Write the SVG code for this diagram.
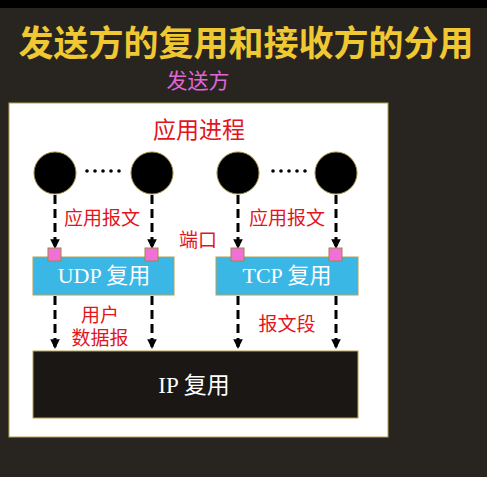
<svg xmlns="http://www.w3.org/2000/svg" width="487" height="477" viewBox="0 0 487 477">
  <style>
    .cjk { font-family: "Liberation Serif", "Noto Sans CJK SC", serif; }
    .red { fill: #e3141c; font-size: 19px; }
    .proc { fill: #000; stroke: #9c8a40; stroke-width: 1; }
    .port { fill: #f070d8; stroke: #a08840; stroke-width: 1; }
    .flow { stroke: #000; stroke-width: 3; stroke-dasharray: 9 5; fill: none; marker-end: url(#arrow); }
    .boxlabel { fill: #fff; font-size: 22px; text-anchor: middle; }
  </style>
  <defs>
    <marker id="arrow" viewBox="0 0 10 10" refX="9" refY="5" markerWidth="3.2" markerHeight="3.2" orient="auto" markerUnits="strokeWidth">
      <path d="M0 0 L10 5 L0 10 Z" fill="#000"/>
    </marker>
  </defs>

  <!-- background -->
  <rect x="0" y="0" width="487" height="477" fill="#28241f"/>
  <rect x="0" y="0" width="487" height="8" fill="#000"/>

  <!-- headings -->
  <text class="cjk" x="246" y="56" text-anchor="middle" font-size="35" font-weight="bold" fill="#f0c832">发送方的复用和接收方的分用</text>
  <text class="cjk" x="198" y="88" text-anchor="middle" font-size="21" fill="#e066d6">发送方</text>

  <!-- host frame -->
  <rect x="9" y="103" width="379" height="334" fill="#fff" stroke="#b8a050" stroke-width="1"/>

  <text class="cjk" x="199" y="138" text-anchor="middle" font-size="23" fill="#e3141c">应用进程</text>

  <!-- application processes -->
  <g id="proc-udp-1"><circle class="proc" cx="55" cy="173" r="21"/></g>
  <g id="proc-udp-2"><circle class="proc" cx="152" cy="173" r="21"/></g>
  <g id="proc-tcp-1"><circle class="proc" cx="238" cy="173" r="21"/></g>
  <g id="proc-tcp-2"><circle class="proc" cx="336" cy="173" r="21"/></g>
  <g id="ellipsis" fill="#000">
    <circle cx="87" cy="171" r="1.8"/><circle cx="95" cy="171" r="1.8"/><circle cx="103" cy="171" r="1.8"/><circle cx="111" cy="171" r="1.8"/><circle cx="119" cy="171" r="1.8"/>
    <circle cx="273" cy="171" r="1.8"/><circle cx="281" cy="171" r="1.8"/><circle cx="289" cy="171" r="1.8"/><circle cx="297" cy="171" r="1.8"/><circle cx="305" cy="171" r="1.8"/>
  </g>

  <!-- connectors -->
  <g id="connectors">
    <line class="flow" x1="55" y1="195" x2="55" y2="248"/>
    <line class="flow" x1="152" y1="195" x2="152" y2="248"/>
    <line class="flow" x1="238" y1="195" x2="238" y2="248"/>
    <line class="flow" x1="336" y1="195" x2="336" y2="248"/>
    <line class="flow" x1="55" y1="296" x2="55" y2="348"/>
    <line class="flow" x1="152" y1="296" x2="152" y2="348"/>
    <line class="flow" x1="238" y1="296" x2="238" y2="348"/>
    <line class="flow" x1="336" y1="296" x2="336" y2="348"/>
  </g>

  <!-- UDP multiplexer -->
  <g id="udp-mux">
    <rect x="33" y="257" width="141" height="38" fill="#3bb7e6" stroke="#b8a050" stroke-width="1"/>
    <text class="cjk boxlabel" x="104" y="283">UDP 复用</text>
    <rect class="port" x="48" y="248" width="13" height="13"/>
    <rect class="port" x="145" y="248" width="13" height="13"/>
  </g>

  <!-- TCP multiplexer -->
  <g id="tcp-mux">
    <rect x="216" y="257" width="142" height="38" fill="#3bb7e6" stroke="#b8a050" stroke-width="1"/>
    <text class="cjk boxlabel" x="287" y="283">TCP 复用</text>
    <rect class="port" x="231" y="248" width="13" height="13"/>
    <rect class="port" x="329" y="248" width="13" height="13"/>
  </g>

  <!-- IP multiplexer -->
  <g id="ip-mux">
    <rect x="33" y="351" width="325" height="67" fill="#1a1715" stroke="#b8a050" stroke-width="1"/>
    <text class="cjk" x="194" y="393" text-anchor="middle" font-size="23" fill="#fff">IP 复用</text>
  </g>

  <!-- labels -->
  <g id="labels">
    <text class="cjk red" x="102" y="225" text-anchor="middle">应用报文</text>
    <text class="cjk red" x="287" y="225" text-anchor="middle">应用报文</text>
    <text class="cjk red" x="198" y="247" text-anchor="middle" font-size="17">端口</text>
    <text class="cjk red" x="100" y="322" text-anchor="middle">用户</text>
    <text class="cjk red" x="100" y="345" text-anchor="middle">数据报</text>
    <text class="cjk red" x="287" y="331" text-anchor="middle">报文段</text>
  </g>
</svg>
